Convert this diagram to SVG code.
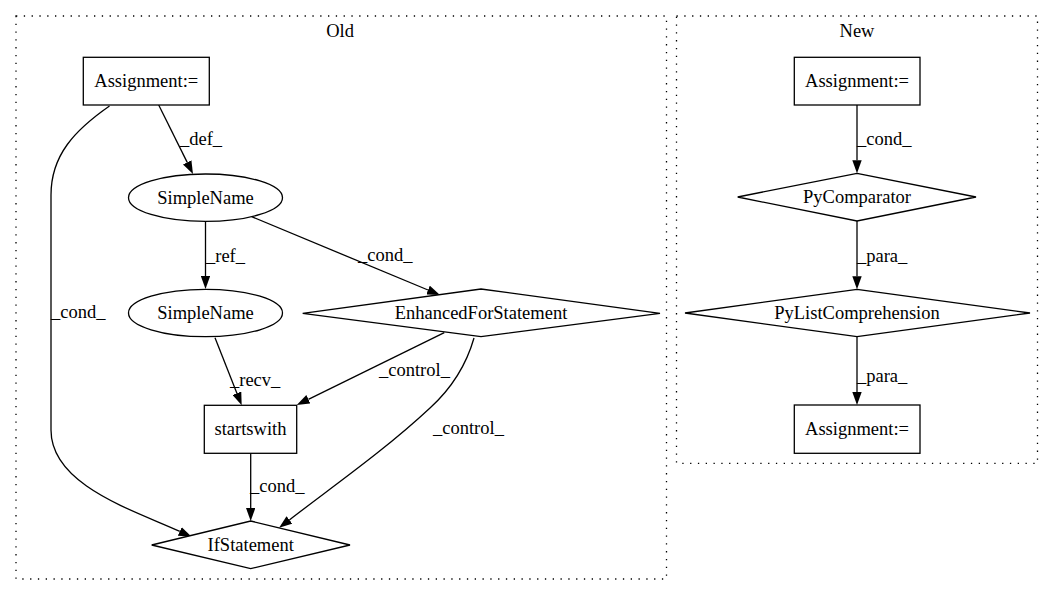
<svg xmlns="http://www.w3.org/2000/svg" width="1053" height="596" viewBox="0 0 1053 596">
<style>
text{font-family:"Liberation Serif","Times New Roman",serif;font-size:18.5px;fill:#000}
.c{text-anchor:middle}
.n{fill:#fff;stroke:#000;stroke-width:1.3}
.cl{fill:none;stroke:#000;stroke-width:1.3;stroke-dasharray:1.3,6.5}
.e{fill:none;stroke:#000;stroke-width:1.3;marker-end:url(#ah)}
</style>
<defs>
<marker id="ah" viewBox="0 0 13 9.4" refX="0" refY="4.7" markerWidth="13" markerHeight="9.4" markerUnits="userSpaceOnUse" orient="auto">
<polygon points="0,0 13,4.7 0,9.4" fill="#000"/>
</marker>
</defs>
<rect width="1053" height="596" fill="#fff"/>
<g id="cluster_old">
<rect class="cl" x="16" y="16" width="650.5" height="563"/>
<text class="c" x="340" y="37">Old</text>
</g>
<g id="cluster_new">
<rect class="cl" x="676.5" y="16" width="361" height="447.3"/>
<text class="c" x="857" y="37">New</text>
</g>
<g id="connectors">
<path class="e" d="M158.7,105 L187.2,162.4"/>
<text x="180" y="145">_def_</text>
<path class="e" d="M109.5,106 C75,130 51,155 51,195 L51,430 C51,485 133,510 179.8,531.4"/>
<text x="51" y="318">_cond_</text>
<path class="e" d="M205.5,221.3 L205.5,276"/>
<text x="206" y="262">_ref_</text>
<path class="e" d="M251.7,216.7 L428,290"/>
<text x="358" y="261">_cond_</text>
<path class="e" d="M215,337.7 L236.9,393.2"/>
<text x="230" y="386">_recv_</text>
<path class="e" d="M444.3,332.7 L308.4,399.3"/>
<text x="379" y="376">_control_</text>
<path class="e" d="M474,338 C466,366 452,388 430,408 C385,450 332,487 289.4,519.9"/>
<text x="433" y="434">_control_</text>
<path class="e" d="M250.7,453.3 L250.7,508"/>
<text x="250" y="492">_cond_</text>
<path class="e" d="M857,105 L857,160.3"/>
<text x="857" y="145">_cond_</text>
<path class="e" d="M857,221 L857,276.3"/>
<text x="857" y="262">_para_</text>
<path class="e" d="M857,336.7 L857,392"/>
<text x="857" y="382">_para_</text>
</g>
<g id="old_assignment">
<rect class="n" x="83.3" y="57.3" width="126" height="47.7"/>
<text class="c" x="146.3" y="87">Assignment:=</text>
</g>
<g id="old_simplename1">
<ellipse class="n" cx="205.5" cy="197.7" rx="77" ry="23.7"/>
<text class="c" x="205.5" y="203.5">SimpleName</text>
</g>
<g id="old_simplename2">
<ellipse class="n" cx="205.5" cy="313" rx="77" ry="23.7"/>
<text class="c" x="205.5" y="319">SimpleName</text>
</g>
<g id="old_enhancedfor">
<polygon class="n" points="481,289 660,313.3 481,336.7 302.7,313.3"/>
<text class="c" x="481" y="319">EnhancedForStatement</text>
</g>
<g id="old_startswith">
<rect class="n" x="204.3" y="405.3" width="92.4" height="48"/>
<text class="c" x="250.5" y="435">startswith</text>
</g>
<g id="old_ifstatement">
<polygon class="n" points="250.7,521 350,545 250.7,568.7 151.7,545"/>
<text class="c" x="250.7" y="551">IfStatement</text>
</g>
<g id="new_assignment1">
<rect class="n" x="794.3" y="57.3" width="125.7" height="47.7"/>
<text class="c" x="857" y="87">Assignment:=</text>
</g>
<g id="new_pycomparator">
<polygon class="n" points="857,173.3 976,197 857,221 737.7,197"/>
<text class="c" x="857" y="203">PyComparator</text>
</g>
<g id="new_pylistcomp">
<polygon class="n" points="857,289.3 1030,313 857,336.7 685,313"/>
<text class="c" x="857" y="319">PyListComprehension</text>
</g>
<g id="new_assignment2">
<rect class="n" x="794.3" y="405" width="125.7" height="48.3"/>
<text class="c" x="857" y="435">Assignment:=</text>
</g>
</svg>
